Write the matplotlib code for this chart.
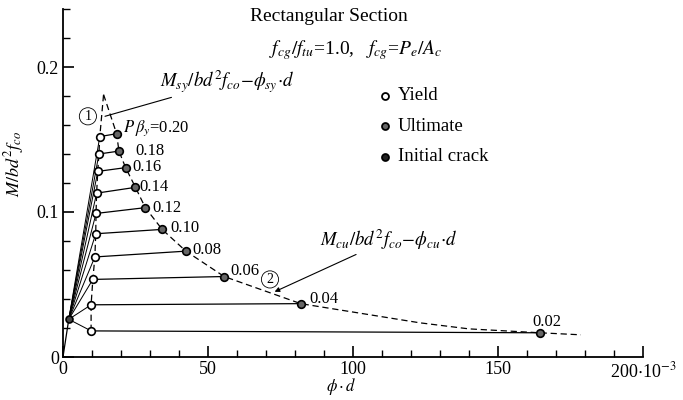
import matplotlib
matplotlib.use("Agg")
import matplotlib.pyplot as plt
import numpy as np

plt.rcParams['font.family'] = ['Liberation Serif', 'DejaVu Serif']
plt.rcParams['mathtext.fontset'] = 'stix'

# P*beta_y values
p_beta = [0.20, 0.18, 0.16, 0.14, 0.12, 0.10, 0.08, 0.06, 0.04, 0.02]
# yield points (phi*d in 1e-3, M/bd^2fco)
yield_x = [12.7, 12.4, 12.0, 11.6, 11.4, 11.3, 11.0, 10.3, 9.7, 9.7]
yield_y = [0.152, 0.140, 0.128, 0.113, 0.099, 0.085, 0.069, 0.0535, 0.036, 0.018]
# ultimate points
ult_x = [18.5, 19.3, 21.6, 25.0, 28.4, 34.2, 42.4, 55.6, 82.0, 164.5]
ult_y = [0.154, 0.142, 0.1306, 0.117, 0.103, 0.088, 0.073, 0.0555, 0.0368, 0.0167]
# initial crack
crack_x, crack_y = 2.0, 0.026

# dashed envelope curves
peak_x, peak_y = 14.0, 0.181
tail_x = [123.0, 140.0]
tail_y = [0.0236, 0.0194]
end_x, end_y = 178.6, 0.0153

# label positions for P*beta_y
lab_x = [20.7, 24.8, 24.1, 26.5, 31.0, 36.9, 44.8, 57.6, 85.0, 162.0]
lab_y = [0.158, 0.142, 0.131, 0.117, 0.103, 0.089, 0.0736, 0.059, 0.040, 0.024]

fig = plt.figure(figsize=(6.83, 4.0), dpi=100)
ax = fig.add_axes([0.0922, 0.1075, 0.849, 0.87])

lw = 0.9
# origin -> initial crack
ax.plot([0, crack_x], [0, crack_y], color='black', lw=lw)
# crack -> yield -> ultimate
for i in range(len(p_beta)):
    ax.plot([crack_x, yield_x[i]], [crack_y, yield_y[i]], color='black', lw=lw * 0.8)
    ax.plot([yield_x[i], ult_x[i]], [yield_y[i], ult_y[i]], color='black', lw=lw)

# curve 1 (yield envelope)
c1x = yield_x[::-1] + [peak_x]
c1y = yield_y[::-1] + [peak_y]
ax.plot(c1x, c1y, color='black', lw=lw, ls=(0, (5, 3)))
# curve 2 (ultimate envelope)
c2x = [peak_x] + ult_x[:-1] + tail_x + [ult_x[-1], end_x]
c2y = [peak_y] + ult_y[:-1] + tail_y + [ult_y[-1], end_y]
ax.plot(c2x, c2y, color='black', lw=lw, ls=(0, (5, 3)))

ms = 5.5
ax.plot(yield_x, yield_y, 'o', ms=ms, mfc='white', mec='black', mew=1.2, ls='none', zorder=5)
ax.plot(ult_x, ult_y, 'o', ms=ms, mfc='#666666', mec='black', mew=1.2, ls='none', zorder=5)
ax.plot([crack_x], [crack_y], 'o', ms=5, mfc='#444444', mec='black', mew=1.2, zorder=5)

# P beta labels
for i, pb in enumerate(p_beta):
    s = '%.2f' % pb
    if i == 0:
        s = r'$P\,\beta_y$=' + s
    ax.text(lab_x[i], lab_y[i], s, fontsize=12, va='center', ha='left')

# legend (drawn by hand like the original)
leg_y = [0.180, 0.159, 0.138]
leg_txt = ['Yield', 'Ultimate', 'Initial crack']
leg_fc = ['white', '#666666', '#222222']
for yy, t, fc in zip(leg_y, leg_txt, leg_fc):
    ax.plot([111], [yy], 'o', ms=5, mfc=fc, mec='black', mew=1.3)
    ax.text(115.5, yy, t, fontsize=13.5, va='center', ha='left')

# titles
ax.text(91.7, 0.235, 'Rectangular Section', fontsize=14, ha='center', va='center')
ax.text(101, 0.212, r'$f_{cg}/f_{tu}$=1.0,   $f_{cg}$=$P_e/A_c$', fontsize=14,
        ha='center', va='center')

# curve annotations
ax.annotate(r'$M_{sy}/bd^2f_{co}$$-$$\phi_{sy}\!\cdot\! d$', xy=(14.5, 0.166),
            xytext=(33.4, 0.190), fontsize=13.5, va='center', ha='left',
            arrowprops=dict(arrowstyle='-', color='black', lw=0.8, shrinkA=0, shrinkB=0))
ax.annotate(r'$M_{cu}/bd^2f_{co}$$-$$\phi_{cu}\!\cdot\! d$', xy=(73, 0.045),
            xytext=(88.6, 0.081), fontsize=13.5, va='center', ha='left',
            arrowprops=dict(arrowstyle='-|>', color='black', lw=0.8, shrinkA=0, shrinkB=0,
                            mutation_scale=7))
ax.text(8.6, 0.166, '1', fontsize=10, ha='center', va='center',
        bbox=dict(boxstyle='circle,pad=0.15', fc='white', ec='black', lw=0.6))
ax.text(71.4, 0.0535, '2', fontsize=10, ha='center', va='center',
        bbox=dict(boxstyle='circle,pad=0.15', fc='white', ec='black', lw=0.6))

# axes
ax.set_xlim(0, 200)
ax.set_ylim(0, 0.24)
ax.spines['top'].set_visible(False)
ax.spines['right'].set_visible(False)
ax.spines['left'].set_linewidth(1.3)
ax.spines['bottom'].set_linewidth(1.3)

ax.set_xticks([0, 50, 100, 150, 200])
ax.set_xticklabels(['0', '50', '100', '150', r'200$\cdot$10$^{-3}$'], fontsize=13)
ax.set_xticks(np.arange(0, 201, 10), minor=True)
ax.set_yticks([0, 0.1, 0.2])
ax.set_yticklabels(['0', '0.1', '0.2'], fontsize=13)
ax.set_yticks(np.arange(0, 0.241, 0.02), minor=True)
ax.tick_params(which='major', direction='in', length=8, width=1.2, pad=3)
ax.tick_params(which='minor', direction='in', length=5, width=1.0)

ax.text(96, -0.0205, r'$\phi\cdot d$', fontsize=12, ha='center', va='center')
ax.text(-17, 0.133, r'$M/bd^2f_{co}$', fontsize=13, ha='center', va='center',
        rotation=90)

fig.savefig('out.png', dpi=100)
